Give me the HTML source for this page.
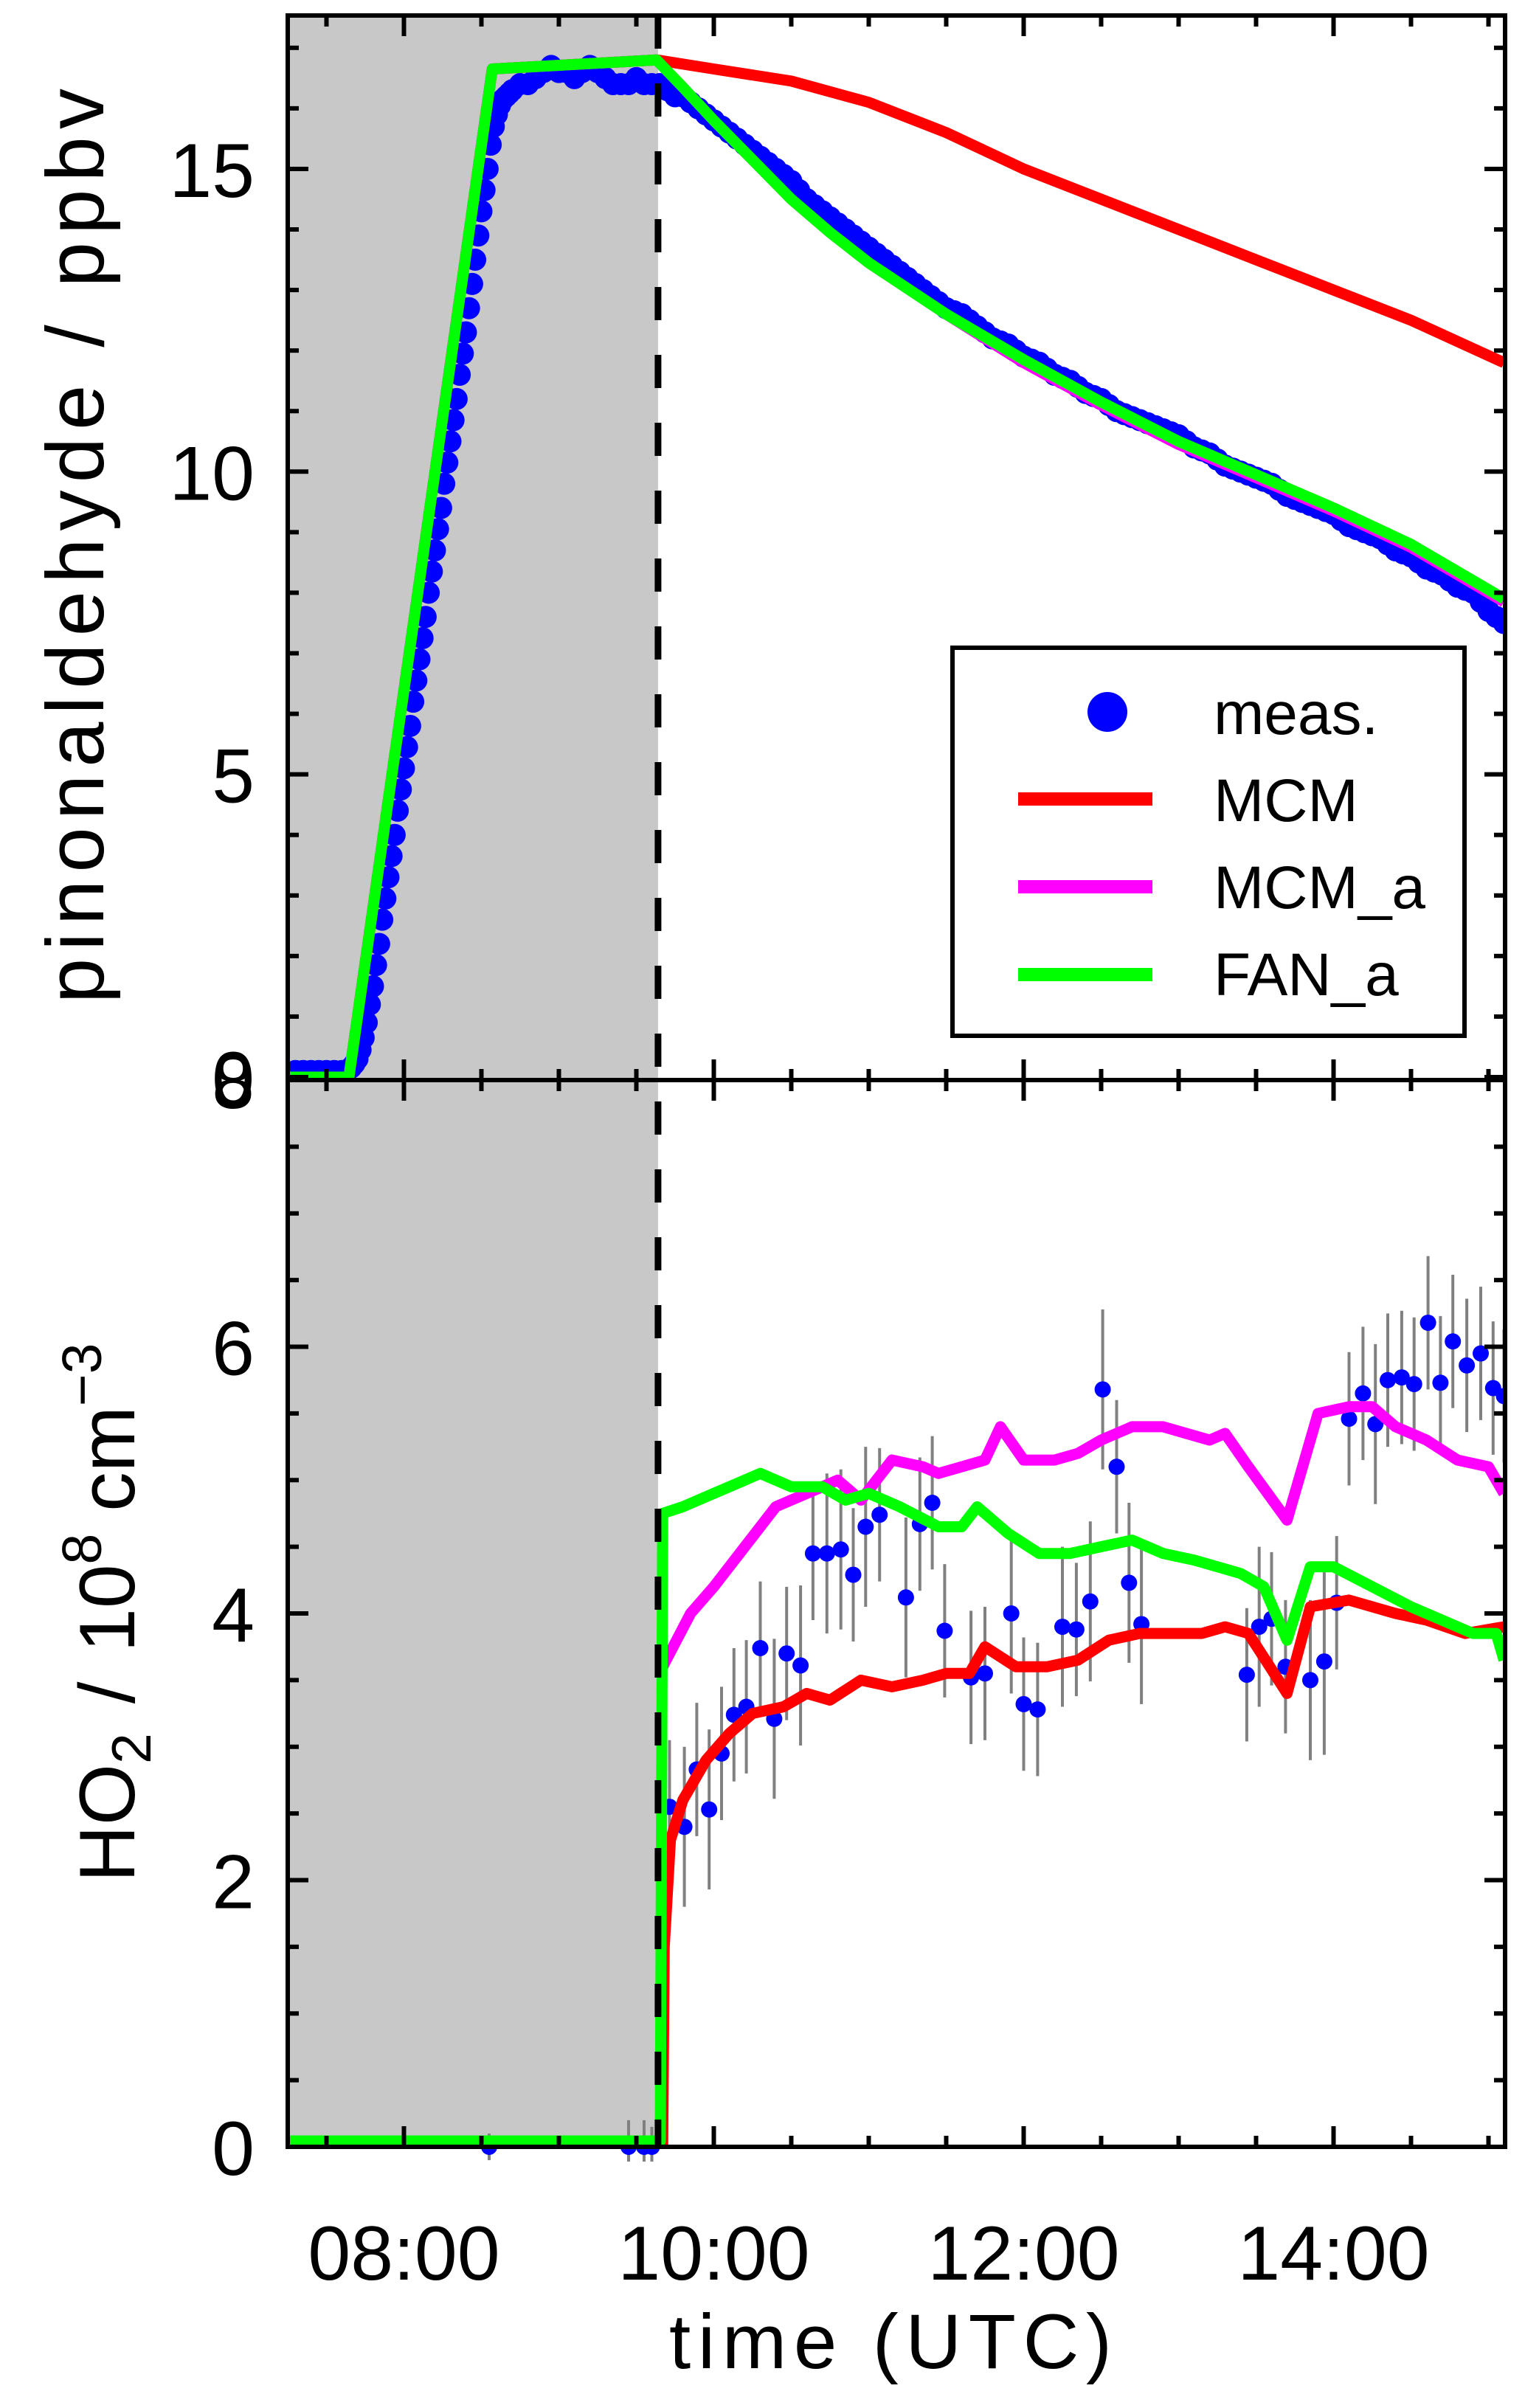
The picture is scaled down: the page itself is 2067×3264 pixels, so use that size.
<!DOCTYPE html>
<html><head><meta charset="utf-8"><style>
html,body{margin:0;padding:0;background:#fff;}
svg{display:block;font-family:"Liberation Sans",sans-serif;}
</style></head><body>
<svg id="chart" xmlns="http://www.w3.org/2000/svg" width="2067" height="3264" viewBox="0 0 2067 3264">
<rect x="0" y="0" width="2067" height="3264" fill="#fff"/>
<g id="g"></g>
</svg>
<script>
// ---- data ----
var measTopT=[7.3,7.35,7.4,7.45,7.5,7.55,7.6,8.7,8.75,8.8,8.85,8.9,8.95,9.0,9.05,9.1,9.15,9.2,9.25,9.3,9.35,9.4,9.45,9.5,9.55,9.6,9.65,9.7,9.75,9.8,9.85,9.9,9.95,10.0,10.05,10.1,10.15,10.2,10.25,10.3,10.35,10.4,10.45,10.5,10.55,10.6,10.65,10.7,10.75,10.8,10.85,10.9,10.95,11.0,11.05,11.1,11.15,11.2,11.25,11.3,11.35,11.4,11.45,11.5,11.55,11.6,11.65,11.7,11.75,11.8,11.85,11.9,11.95,12.0,12.05,12.1,12.15,12.2,12.25,12.3,12.35,12.4,12.45,12.5,12.55,12.6,12.65,12.7,12.75,12.8,12.85,12.9,12.95,13.0,13.05,13.1,13.15,13.2,13.25,13.3,13.35,13.4,13.45,13.5,13.55,13.6,13.65,13.7,13.75,13.8,13.85,13.9,13.95,14.0,14.05,14.1,14.15,14.2,14.25,14.3,14.35,14.4,14.45,14.5,14.55,14.6,14.65,14.7,14.75,14.8,14.85,14.9,14.95,15.0,15.05,15.1];
var measTopV=[0.1,0.1,0.1,0.1,0.1,0.1,0.1,16.3,16.4,16.4,16.5,16.6,16.7,16.6,16.6,16.5,16.6,16.7,16.6,16.5,16.4,16.4,16.4,16.5,16.4,16.4,16.4,16.3,16.2,16.2,16.1,16.0,15.9,15.8,15.7,15.6,15.5,15.4,15.3,15.2,15.1,15.0,14.9,14.8,14.65,14.5,14.4,14.3,14.2,14.1,14.0,13.9,13.8,13.7,13.6,13.5,13.4,13.3,13.2,13.1,13.0,12.9,12.8,12.7,12.65,12.6,12.5,12.4,12.3,12.2,12.15,12.1,12.0,11.9,11.85,11.8,11.7,11.6,11.55,11.5,11.4,11.3,11.25,11.2,11.1,11.0,10.95,10.9,10.85,10.8,10.75,10.7,10.65,10.6,10.5,10.4,10.35,10.3,10.2,10.1,10.05,10.0,9.95,9.9,9.85,9.8,9.7,9.6,9.55,9.5,9.45,9.4,9.35,9.3,9.2,9.1,9.05,9.0,8.95,8.9,8.8,8.7,8.65,8.6,8.5,8.4,8.35,8.3,8.2,8.1,8.05,8.0,7.85,7.7,7.6,7.5];
var measRiseT=[7.62,7.64,7.66,7.68,7.70,7.72,7.74,7.76,7.78,7.80,7.82,7.84,7.86,7.88,7.90,7.92,7.94,7.96,7.98,8.00,8.02,8.04,8.06,8.08,8.10,8.12,8.14,8.16,8.18,8.20,8.22,8.24,8.26,8.28,8.30,8.32,8.34,8.36,8.38,8.40,8.42,8.44,8.46,8.48,8.50,8.52,8.54,8.56,8.58,8.60,8.62,8.64,8.66,8.68];
var measRiseV=[0.1,0.12,0.16,0.22,0.3,0.45,0.65,0.9,1.2,1.5,1.85,2.2,2.6,2.95,3.3,3.65,4.0,4.4,4.75,5.1,5.45,5.8,6.2,6.55,6.9,7.25,7.6,8.0,8.35,8.7,9.05,9.4,9.8,10.15,10.5,10.85,11.2,11.6,11.95,12.3,12.7,13.1,13.5,13.9,14.3,14.65,15.0,15.4,15.7,15.9,16.05,16.15,16.2,16.25];
var fanTopT=[7.25,7.645,8.57,9.63,9.8,10.0,10.25,10.5,10.75,11.0,11.5,12.0,12.5,13.0,13.5,14.0,14.5,15.1];
var fanTopV=[0,0,16.65,16.8,16.35,15.8,15.15,14.5,13.95,13.45,12.6,11.85,11.15,10.5,9.95,9.4,8.8,7.9];
var mcmaTopV=[0,0,16.65,16.8,16.35,15.8,15.15,14.5,13.95,13.45,12.6,11.8,11.1,10.45,9.9,9.35,8.75,7.85];
var mcmTopT=[7.25,7.645,8.57,9.63,10.0,10.5,11.0,11.5,12.0,12.5,13.0,13.5,14.0,14.5,15.1];
var mcmTopV=[0,0,16.65,16.8,16.65,16.45,16.1,15.6,15.0,14.5,14.0,13.5,13.0,12.5,11.8];

var measBotT=[8.55,9.45,9.55,9.6,9.714,9.81,9.89,9.97,10.05,10.13,10.21,10.30,10.39,10.47,10.56,10.64,10.73,10.82,10.90,10.98,11.07,11.24,11.33,11.41,11.49,11.66,11.75,11.92,12.00,12.09,12.25,12.34,12.43,12.51,12.60,12.68,12.76,13.44,13.52,13.60,13.69,13.85,13.94,14.02,14.10,14.19,14.27,14.35,14.44,14.52,14.61,14.69,14.77,14.86,14.95,15.03,15.10];
var measBotV=[0,0,0,0,2.55,2.40,2.83,2.53,2.95,3.24,3.30,3.74,3.21,3.70,3.61,4.45,4.45,4.48,4.29,4.65,4.74,4.12,4.67,4.83,3.87,3.52,3.55,4.00,3.32,3.28,3.90,3.88,4.09,5.68,5.10,4.23,3.92,3.54,3.90,3.96,3.60,3.50,3.64,4.08,5.46,5.65,5.42,5.75,5.77,5.72,6.18,5.73,6.04,5.86,5.95,5.69,5.63];
var measBotE=[0.1,0.2,0.2,0.15,0.5,0.6,0.5,0.6,0.5,0.5,0.5,0.5,0.6,0.5,0.6,0.5,0.6,0.6,0.5,0.6,0.5,0.6,0.5,0.5,0.5,0.5,0.5,0.6,0.5,0.5,0.6,0.5,0.6,0.6,0.5,0.6,0.6,0.5,0.6,0.5,0.5,0.6,0.7,0.5,0.5,0.5,0.6,0.5,0.5,0.5,0.5,0.5,0.5,0.5,0.5,0.5,0.5];

var redBotT=[9.67,9.68,9.72,9.8,9.95,10.1,10.25,10.45,10.6,10.75,10.95,11.15,11.35,11.5,11.65,11.75,11.95,12.15,12.35,12.55,12.75,12.95,13.15,13.3,13.45,13.7,13.85,14.1,14.4,14.6,14.85,15.1];
var redBotV=[0,1.5,2.3,2.6,2.9,3.1,3.25,3.3,3.4,3.35,3.5,3.45,3.5,3.55,3.55,3.75,3.6,3.6,3.65,3.8,3.85,3.85,3.85,3.9,3.85,3.4,4.05,4.1,4.0,3.95,3.85,3.9];
var magBotT=[9.67,9.85,10.0,10.2,10.4,10.6,10.8,10.95,11.15,11.35,11.45,11.6,11.75,11.85,12.0,12.2,12.35,12.5,12.7,12.9,13.05,13.2,13.3,13.45,13.7,13.9,14.1,14.25,14.4,14.6,14.8,15.0,15.1];
var magBotV=[3.6,4.0,4.2,4.5,4.8,4.9,5.0,4.85,5.15,5.1,5.05,5.1,5.15,5.4,5.15,5.15,5.2,5.3,5.4,5.4,5.35,5.3,5.35,5.1,4.7,5.5,5.55,5.55,5.4,5.3,5.15,5.1,4.9];
var grnBotT=[7.25,9.655,9.67,9.8,10.0,10.2,10.3,10.5,10.7,10.85,11.0,11.2,11.45,11.6,11.7,11.9,12.1,12.3,12.5,12.7,12.9,13.1,13.25,13.4,13.55,13.7,13.85,14.0,14.25,14.5,14.7,14.9,15.05,15.1];
var grnBotV=[0,0,4.75,4.8,4.9,5.0,5.05,4.95,4.95,4.85,4.9,4.8,4.65,4.65,4.8,4.6,4.45,4.45,4.5,4.55,4.45,4.4,4.35,4.3,4.2,3.8,4.35,4.35,4.2,4.05,3.95,3.85,3.85,3.65];

var xTicks=[8,10,12,14];
var xTickLabels=["08:00","10:00","12:00","14:00"];
var topYTicks=[0,5,10,15];
var botYTicks=[0,2,4,6,8];
var darkEnd=9.64;

// ---- geometry ----
var L=390,R=2040,T1=21,B1=1464,T2=1464,B2=2910;
var xMin=7.25,xMax=7.25+(R-L)/210;
function X(t){return L+(t-xMin)/(xMax-xMin)*(R-L);}
function Y1(v){return 1460-v*82.07;}
function Y2(v){return B2-v*(B2-T2)/8;}
var NS="http://www.w3.org/2000/svg";
var g=document.getElementById('g');
function mk(tag,attrs,parent){var e=document.createElementNS(NS,tag);for(var k in attrs)e.setAttribute(k,attrs[k]);(parent||g).appendChild(e);return e;}
function pts(ts,vs,f){return ts.map(function(t,i){return X(t).toFixed(1)+','+f(vs[i]).toFixed(1);}).join(' ');}

var sh=mk('rect',{x:L,y:T1,width:X(darkEnd)-L,height:B2-T1,fill:'#c8c8c8'});



var defs=mk('defs',{});
var c1=mk('clipPath',{id:'c1'},defs);mk('rect',{x:L,y:T1,width:R-L,height:B1-T1},c1);
var c2=mk('clipPath',{id:'c2'},defs);mk('rect',{x:L,y:T2,width:R-L,height:B2-T2+20},c2);

var gt=mk('g',{'clip-path':'url(#c1)'});


measTopT.forEach(function(t,i){
  var c=mk('circle',{cx:X(t),cy:Y1(measTopV[i]),r:15,fill:'#0000ff'},gt);
  
  
});
measRiseT.forEach(function(t,i){
  var c=mk('circle',{cx:X(t),cy:Y1(measRiseV[i]),r:15,fill:'#0000ff'},gt);
  
  
});
var lr=mk('polyline',{points:pts(mcmTopT,mcmTopV,Y1),fill:'none',stroke:'#ff0000','stroke-width':15,'stroke-linejoin':'round'},gt);


var lm=mk('polyline',{points:pts(fanTopT,mcmaTopV,Y1),fill:'none',stroke:'#ff00ff','stroke-width':15,'stroke-linejoin':'round'},gt);


var lg=mk('polyline',{points:pts(fanTopT,fanTopV,Y1),fill:'none',stroke:'#00ff00','stroke-width':15,'stroke-linejoin':'round'},gt);



var gb=mk('g',{'clip-path':'url(#c2)'});


measBotT.forEach(function(t,i){
  var e=mk('line',{x1:X(t),x2:X(t),y1:Y2(measBotV[i]-measBotE[i]),y2:Y2(measBotV[i]+measBotE[i]),stroke:'#808080','stroke-width':4},gb);
  
  
});
measBotT.forEach(function(t,i){
  var c=mk('circle',{cx:X(t),cy:Y2(measBotV[i]),r:11,fill:'#0000ff'},gb);
  
  
});
var br=mk('polyline',{points:pts(redBotT,redBotV,Y2),fill:'none',stroke:'#ff0000','stroke-width':15,'stroke-linejoin':'round'},gb);


var bm=mk('polyline',{points:pts(magBotT,magBotV,Y2),fill:'none',stroke:'#ff00ff','stroke-width':15,'stroke-linejoin':'round'},gb);


var bg=mk('polyline',{points:pts(grnBotT,grnBotV,function(v){return Math.min(Y2(v),B2-8);}),fill:'none',stroke:'#00ff00','stroke-width':15,'stroke-linejoin':'round'},gb);



var dl=mk('line',{x1:X(darkEnd),x2:X(darkEnd),y1:T1,y2:B2,stroke:'#000','stroke-width':9,'stroke-dasharray':'45,47'});



[[T1,B1],[T2,B2]].forEach(function(p,k){
  var f=mk('rect',{x:L,y:p[0],width:R-L,height:p[1]-p[0],fill:'none',stroke:'#000','stroke-width':6});
  
  
  for(var m=7.5;m<=xMax+0.001;m+=0.5){
    var maj=Math.abs(m-Math.round(m/2)*2)<0.01, len=maj?28:15, x=X(m);
    mk('line',{x1:x,x2:x,y1:p[1],y2:p[1]-len,stroke:'#000','stroke-width':6});
    mk('line',{x1:x,x2:x,y1:p[0],y2:p[0]+len,stroke:'#000','stroke-width':6});
  }
});
for(var v=0;v<=17;v+=1){var y=Y1(v),len=(v%5==0)?28:15;
  mk('line',{x1:L,x2:L+len,y1:y,y2:y,stroke:'#000','stroke-width':6});
  mk('line',{x1:R,x2:R-len,y1:y,y2:y,stroke:'#000','stroke-width':6});}
for(var v=0.5;v<8;v+=0.5){var y=Y2(v),len=(v%2==0)?28:15;
  mk('line',{x1:L,x2:L+len,y1:y,y2:y,stroke:'#000','stroke-width':6});
  mk('line',{x1:R,x2:R-len,y1:y,y2:y,stroke:'#000','stroke-width':6});}

topYTicks.forEach(function(v){
  var t=mk('text',{x:345,y:Y1(v)+38,'text-anchor':'end','font-size':104});t.textContent=String(v);
  
  
});
botYTicks.forEach(function(v){
  var t=mk('text',{x:345,y:Y2(v)+38,'text-anchor':'end','font-size':104});t.textContent=String(v);
  
  
});
xTicks.forEach(function(v,i){
  var t=mk('text',{x:X(v),y:3090,'text-anchor':'middle','font-size':104});t.textContent=xTickLabels[i];
  
  
});
</script>
<svg style="position:absolute;left:0;top:0" width="2067" height="3264" viewBox="0 0 2067 3264" font-family="Liberation Sans, sans-serif">
<text x="1207" y="3210" text-anchor="middle" font-size="105" textLength="600" lengthAdjust="spacing">time (UTC)</text>
<text transform="translate(140,740) rotate(-90)" text-anchor="middle" font-size="110" textLength="1240" lengthAdjust="spacing">pinonaldehyde / ppbv</text>
<text transform="translate(182,2186) rotate(-90)" text-anchor="middle" font-size="107">HO<tspan font-size="75" dy="22">2</tspan><tspan dy="-22" dx="40">/</tspan><tspan dx="40">10</tspan><tspan font-size="75" dy="-45">8</tspan><tspan dy="45" dx="30">cm</tspan><tspan font-size="75" dy="-45">−3</tspan></text>
<g>
<rect x="1291" y="878" width="694" height="526" fill="#fff" stroke="#000" stroke-width="6"/>
<ellipse cx="1501" cy="965" rx="27" ry="27" fill="#0000ff"/>
<text x="1645" y="995" font-size="82">meas.</text>
<rect x="1380" y="1074" width="182" height="18" fill="#ff0000"/>
<text x="1645" y="1113" font-size="82">MCM</text>
<rect x="1380" y="1193" width="182" height="18" fill="#ff00ff"/>
<text x="1645" y="1231" font-size="82">MCM_a</text>
<rect x="1380" y="1312" width="182" height="18" fill="#00ff00"/>
<text x="1645" y="1349" font-size="82">FAN_a</text>
</g>
</svg>
</body></html>
